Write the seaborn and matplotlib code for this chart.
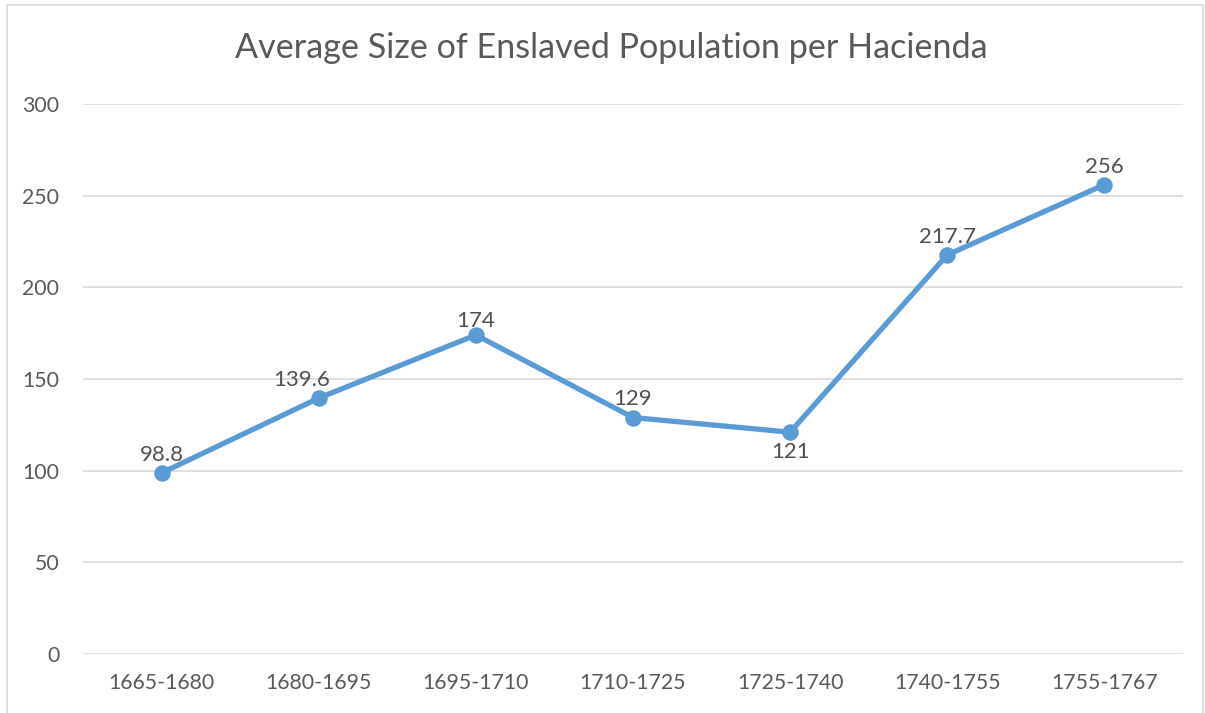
import matplotlib
matplotlib.use("Agg")
import matplotlib.pyplot as plt
import seaborn as sns
import pandas as pd
from matplotlib.patches import Rectangle

# data
periods = ["1665-1680", "1680-1695", "1695-1710", "1710-1725",
           "1725-1740", "1740-1755", "1755-1767"]
avg_size = [98.8, 139.6, 174, 129, 121, 217.7, 256]
labels = ["98.8", "139.6", "174", "129", "121", "217.7", "256"]
label_below = [False, False, False, False, True, False, False]

df = pd.DataFrame({"period": periods, "size": avg_size})

sns.set_style("white")
plt.rcParams["font.family"] = ["Lato", "DejaVu Sans"]

fig = plt.figure(figsize=(12.05, 7.13), dpi=100)
ax = fig.add_axes([0.0689, 0.0827, 0.9128, 0.7714])

blue = "#5B9BD5"
sns.pointplot(data=df, x="period", y="size", color=blue, ax=ax,
              markersize=9, linewidth=3.8, markers="o", errorbar=None)

ax.set_ylim(0, 300)
ax.set_xlim(-0.5, len(periods) - 0.5)
ax.set_yticks(range(0, 301, 50))
ax.yaxis.grid(True, color="#D9D9D9", linewidth=1.2)
ax.set_axisbelow(True)
for s in ax.spines.values():
    s.set_visible(False)
ax.tick_params(axis="both", length=0, labelsize=15.3, colors="#595959")
ax.tick_params(axis="y", pad=17)
ax.tick_params(axis="x", pad=14)
ax.set_xlabel("")
ax.set_ylabel("")

for i, (v, t) in enumerate(zip(avg_size, labels)):
    off = -14 if label_below[i] else (10 if t == "174" else 13)
    dx = -12 if t == "139.6" else 0
    ax.annotate(t, (i, v), xytext=(dx, off), textcoords="offset points",
                ha="center", va="center", fontsize=16, color="#505050")

fig.text(0.507, 0.932, "Average Size of Enslaved Population per Hacienda",
         ha="center", va="center", fontsize=24.6, color="#595959")

# chart area border
fig.patches.append(Rectangle((7 / 1205, -0.01), 1196 / 1205, 1 - 5 / 713 + 0.01,
                             transform=fig.transFigure, fill=False,
                             edgecolor="#D9D9D9", linewidth=1.2))

fig.savefig("out.png", dpi=100, facecolor="white")
